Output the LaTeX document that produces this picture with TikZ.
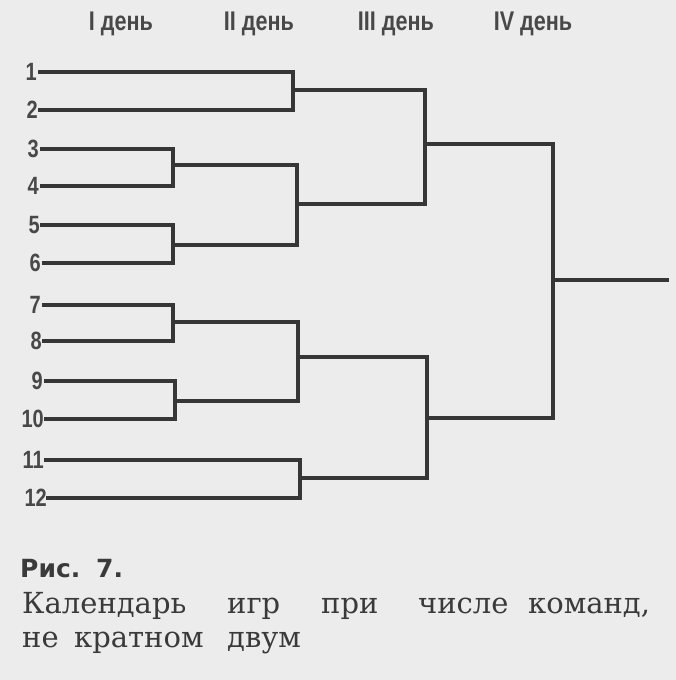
\documentclass[tikz,border=0pt]{standalone}
\usepackage{fontspec}
\setmainfont{DejaVu Serif}
\newfontfamily\hdrfont{Liberation Sans}
\newfontfamily\figfont{DejaVu Sans}
\definecolor{bggray}{HTML}{ECECEC}
\definecolor{wiregray}{HTML}{363636}
\definecolor{labgray}{HTML}{484848}
\definecolor{capgray}{HTML}{3A3A3A}
\newcommand\narrowtxt[1]{\scalebox{0.8}[1]{#1}}
\begin{document}
\begin{tikzpicture}[x=1pt,y=-1pt,
  wire/.style={draw=wiregray,line width=3.2pt,line join=miter,line cap=rect},
  num/.style={anchor=base east,inner sep=0pt,text=labgray,font=\hdrfont\bfseries\fontsize{25}{25}\selectfont},
  dayhead/.style={anchor=base,inner sep=0pt,text=labgray,font=\hdrfont\bfseries\fontsize{27}{27}\selectfont},
  capword/.style={anchor=base west,inner sep=0pt,text=capgray,font=\fontsize{29}{29}\selectfont},
  figlab/.style={anchor=base west,inner sep=0pt,text=capgray,font=\figfont\bfseries\fontsize{25}{25}\selectfont}]
\fill[bggray] (0,0) rectangle (676,680);
\useasboundingbox (0,0) rectangle (676,680);

% day headers
\node[dayhead] (d1) at (121,30) {\narrowtxt{I день}};
\node[dayhead] (d2) at (259,30) {\narrowtxt{II день}};
\node[dayhead] (d3) at (396,30) {\narrowtxt{III день}};
\node[dayhead] (d4) at (533,30) {\narrowtxt{IV день}};

% team line starts
\coordinate (s1) at (40,72);
\coordinate (s2) at (40,110);
\coordinate (s3) at (42,149);
\coordinate (s4) at (42,186);
\coordinate (s5) at (42,225);
\coordinate (s6) at (44,263);
\coordinate (s7) at (44,305);
\coordinate (s8) at (44,341);
\coordinate (s9) at (46,381);
\coordinate (s10) at (46,419);
\coordinate (s11) at (46,460);
\coordinate (s12) at (48,498);

% team numbers
\node[num] (n1) at (37,80) {\narrowtxt{1}};
\node[num] (n2) at (38,118) {\narrowtxt{2}};
\node[num] (n3) at (39,157) {\narrowtxt{3}};
\node[num] (n4) at (39,194) {\narrowtxt{4}};
\node[num] (n5) at (40,233) {\narrowtxt{5}};
\node[num] (n6) at (41,271) {\narrowtxt{6}};
\node[num] (n7) at (41,313) {\narrowtxt{7}};
\node[num] (n8) at (42,349) {\narrowtxt{8}};
\node[num] (n9) at (43,389) {\narrowtxt{9}};
\node[num] (n10) at (44,427) {\narrowtxt{10}};
\node[num] (n11) at (44,468) {\narrowtxt{11}};
\node[num] (n12) at (47,506) {\narrowtxt{12}};

% junctions
\coordinate (j12) at (293,90);
\coordinate (j34) at (173,165);
\coordinate (j56) at (173,245);
\coordinate (j78) at (173,322);
\coordinate (j910) at (175,401);
\coordinate (j1112) at (300,478);
\coordinate (jA) at (297,204);
\coordinate (jB) at (298,357);
\coordinate (jC) at (425,144);
\coordinate (jD) at (427,418);
\coordinate (jF) at (553,280);
\coordinate (win) at (667,280);

% first round
\draw[wire] (s1) -| (j12) |- (s2);
\draw[wire] (s3) -| (j34) |- (s4);
\draw[wire] (s5) -| (j56) |- (s6);
\draw[wire] (s7) -| (j78) |- (s8);
\draw[wire] (s9) -| (j910) |- (s10);
\draw[wire] (s11) -| (j1112) |- (s12);
% second round
\draw[wire] (j34) -| (jA) |- (j56);
\draw[wire] (j78) -| (jB) |- (j910);
% third round
\draw[wire] (j12) -| (jC) |- (jA);
\draw[wire] (jB) -| (jD) |- (j1112);
% final
\draw[wire] (jC) -| (jF) |- (jD);
\draw[wire] (jF) -- (win);

% caption
\node[figlab] (r1) at (20,577) {Рис.};
\node[figlab] (r2) at (96,577) {7.};
\node[capword] (w1) at (22,613) {Календарь};
\node[capword] (w2) at (227,613) {игр};
\node[capword] (w3) at (321,613) {при};
\node[capword] (w4) at (418,613) {числе};
\node[capword] (w5) at (528,613) {команд,};
\node[capword] (w6) at (22,647) {не};
\node[capword] (w7) at (74,647) {кратном};
\node[capword] (w8) at (227,647) {двум};
\end{tikzpicture}
\end{document}
